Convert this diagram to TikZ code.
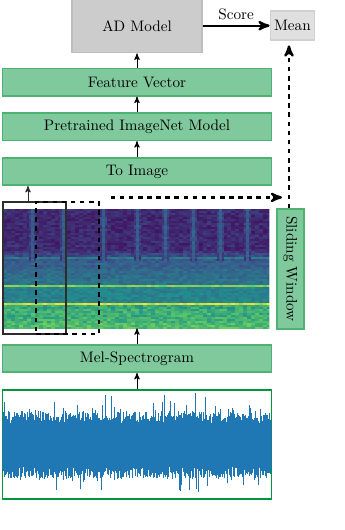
\documentclass[tikz,border=0pt]{standalone}
\usetikzlibrary{arrows, positioning, calc}
\definecolor{stagefill}{RGB}{128,201,157}
\definecolor{stageline}{RGB}{77,178,114}
\definecolor{modelfill}{RGB}{204,204,204}
\definecolor{modelline}{RGB}{190,190,190}
\definecolor{meanfill}{RGB}{224,224,224}
\definecolor{meanline}{RGB}{208,208,208}
\definecolor{waveline}{RGB}{0,150,62}
\definecolor{wavecol}{RGB}{31,119,180}
\definecolor{wincol}{RGB}{45,45,45}
% viridis anchors for the spectrogram
\definecolor{vz0}{RGB}{68,1,84}
\definecolor{vz1}{RGB}{59,82,139}
\definecolor{vz2}{RGB}{33,145,140}
\definecolor{vz3}{RGB}{94,201,98}
\definecolor{vz4}{RGB}{253,231,37}
\definecolor{vz5}{RGB}{253,231,37}
\tikzstyle{stage} = [rectangle, draw=stageline, fill=stagefill, line width=1pt, minimum width=177pt, minimum height=18pt]
\tikzstyle{model} = [rectangle, draw=modelline, fill=modelfill, line width=1pt, minimum width=85.5pt, minimum height=35.5pt]
\tikzstyle{meanbox} = [rectangle, draw=meanline, fill=meanfill, line width=1pt, minimum width=29pt, minimum height=19pt, inner sep=2pt]
\tikzstyle{window} = [rectangle, draw=wincol, line width=0.8pt, minimum width=41.5pt, minimum height=86.9pt, inner sep=0pt]
\tikzstyle{line} = [draw, -stealth', semithick]
\tikzstyle{slidearrow} = [draw, -stealth', line width=1.5pt, dashed]

\begin{document}
\begin{tikzpicture}[x=0.658pt, y=0.658pt]
        \useasboundingbox (0,0) rectangle (344,530);
        % Nodes
        \node [stage] (toimg) at (137,358.5) {To Image};
        \node [stage, above=10.5pt of toimg] (pretrained) {Pretrained ImageNet Model};
        \node [stage, above=10.3pt of pretrained] (feature) {Feature Vector};
        \node [model, above=9.4pt of feature] (ad) {AD Model};
        \node [meanbox, right=44pt of ad] (mean) {Mean};
        \node [inner sep=0pt, minimum width=175pt, minimum height=78.3pt] (spec) at (136,261.5) {};
        \node [stage, rotate=-90, minimum width=79pt, minimum height=17.8pt] (sliding) at (290.5,261) {Sliding Window};
        \node [stage] (mel) at (137,171.5) {Mel-Spectrogram};
        \node [rectangle, draw=waveline, line width=1.2pt, minimum width=177pt, minimum height=72pt, below=10.5pt of mel] (wave) {};

        % Spectrogram: rows of mel bins, cells of random brightness
        \pgfmathsetseed{11}
        \begin{scope}
            \clip (spec.south west) rectangle (spec.north east);
            \foreach \r in {0,2,...,118} {
                \pgfmathsetmacro\tb{0.04*rnd + (\r<40 ? 0.11 : (\r<48 ? 0.11+0.12*(\r-40)/8 : (\r<50 ? 0.4 : (\r<76 ? 0.27+0.1*(\r-50)/26 : (\r<78 ? 0.78 : (\r<94 ? 0.43 : (\r<96 ? 0.86 : 0.52+0.1*(\r-96)/22)))))))}
                \pgfmathsetmacro\amp{\r<94 ? 0.12 : 0.22}
                \foreach \x in {3,7,...,267} {
                    \pgfmathsetmacro\tc{max(0,min(0.99,\tb+\amp*rnd-0.06))}
                    \pgfmathtruncatemacro\k{4*\tc}
                    \pgfmathtruncatemacro\kk{\k+1}
                    \pgfmathtruncatemacro\p{100*(4*\tc-\k)}
                    \fill [vz\kk!\p!vz\k] (\x,{319-\r}) rectangle ++(4,2);
                }
            }
            % events in the upper bins
            \foreach \x in {32,63,103,137,165,193,220,247}
                \foreach \r in {0,2,...,50} {
                    \pgfmathtruncatemacro\p{40*rnd}
                    \pgfmathtruncatemacro\q{50+50*rnd}
                    \fill [vz1!\q!vz0] (\x-3.5,{319-\r}) rectangle ++(7,2);
                    \fill [vz2!\p!vz1] (\x-1.5,{319-\r}) rectangle ++(3,2);
                }
        \end{scope}

        % Waveform
        \begin{scope}
            \clip ([shift={(0.6pt,0.6pt)}]wave.south west) rectangle ([shift={(-0.6pt,-0.6pt)}]wave.north east);
            \foreach \x in {2,2.6,...,272} {
                \pgfmathsetmacro\up{22+12*rnd+26*rnd^24}
                \pgfmathsetmacro\dn{22+12*rnd+26*rnd^24}
                \draw [wavecol, line width=0.5pt] (\x,{85-\dn}) -- (\x,{85+\up});
            }
        \end{scope}

        % Windows
        \node [window] (win) at (34.5,262) {};
        \node [window, draw=black, dashed] (dwin) at (67.5,262) {};

        % Edges
        \path [line] (wave.north) -- (mel.south);
        \path [line] (mel.north) -- (mel.north |- spec.south);
        \coordinate (winarrow) at ([xshift=-4.3pt]win.north);
        \path [line, draw=wincol] (winarrow) -- (winarrow |- toimg.south);
        \path [line] (toimg) -- (pretrained);
        \path [line] (pretrained) -- (feature);
        \path [line] (feature) -- (ad);
        \path [draw, -stealth', line width=1.5pt] (ad) -- node[above] {Score} (mean);
        \coordinate (slidestart) at ([shift={(7.2pt,2.6pt)}]dwin.north east);
        \coordinate (slideend) at (slidestart -| sliding.west);
        \path [slidearrow] (slidestart) -- ([xshift=-5.6pt]slideend);
        \coordinate (slidetop) at ([xshift=-1pt]sliding.west);
        \path [slidearrow, shorten >=3pt] (slidetop) -- (slidetop |- mean.south);
    \end{tikzpicture}
\end{document}
